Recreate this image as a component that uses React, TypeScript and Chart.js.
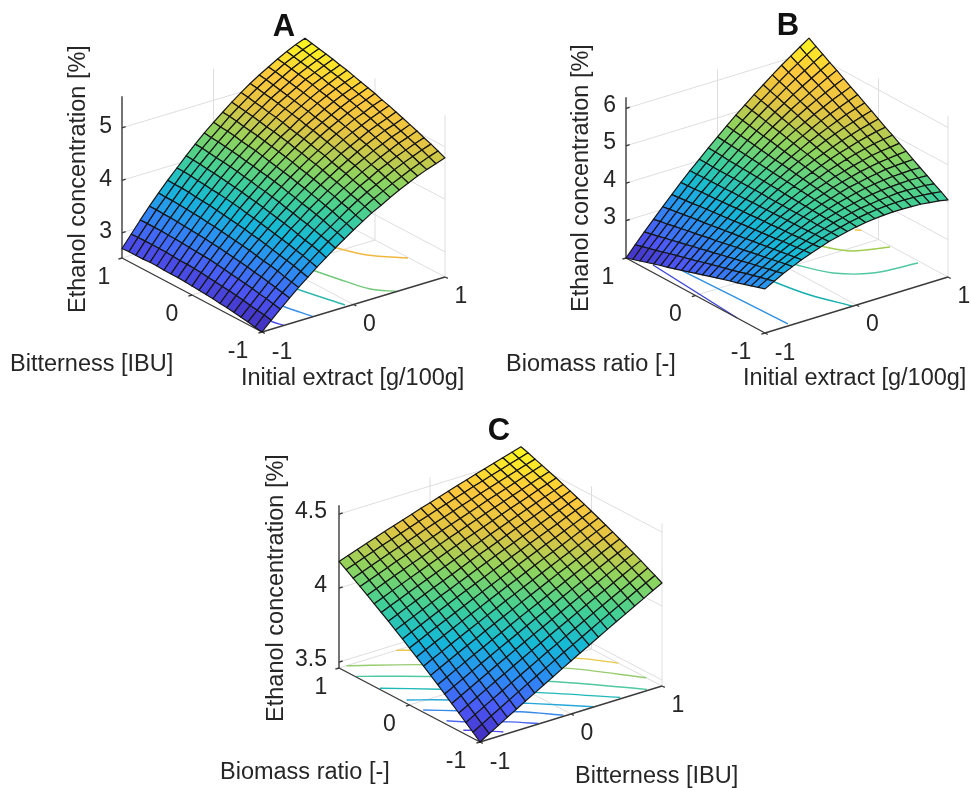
import React, { useEffect, useRef } from "react";
import { Chart, registerables } from "chart.js";

Chart.register(...registerables);

// ---- Surface heights: rows = first axis -1..1, columns = second axis -1..1 ----
const surfaceA = [
[2.52,2.54,2.57,2.59,2.61,2.63,2.64,2.66,2.67,2.68,2.69,2.70,2.71,2.71,2.71,2.72,2.72,2.71,2.71,2.71,2.70],
[2.69,2.72,2.74,2.76,2.79,2.81,2.83,2.84,2.86,2.87,2.89,2.90,2.91,2.91,2.92,2.93,2.93,2.93,2.93,2.93,2.92],
[2.85,2.88,2.91,2.93,2.96,2.98,3.00,3.02,3.04,3.06,3.08,3.09,3.10,3.11,3.12,3.13,3.13,3.14,3.14,3.14,3.14],
[3.01,3.04,3.07,3.10,3.13,3.15,3.18,3.20,3.22,3.24,3.26,3.27,3.29,3.30,3.31,3.32,3.33,3.34,3.34,3.35,3.35],
[3.16,3.19,3.22,3.26,3.29,3.31,3.34,3.37,3.39,3.41,3.43,3.45,3.47,3.48,3.50,3.51,3.52,3.53,3.54,3.54,3.55],
[3.30,3.34,3.38,3.41,3.44,3.47,3.50,3.53,3.55,3.58,3.60,3.62,3.64,3.66,3.68,3.69,3.70,3.72,3.73,3.73,3.74],
[3.44,3.48,3.52,3.55,3.59,3.62,3.65,3.68,3.71,3.74,3.76,3.79,3.81,3.83,3.85,3.86,3.88,3.89,3.91,3.92,3.92],
[3.57,3.62,3.66,3.69,3.73,3.77,3.80,3.83,3.86,3.89,3.92,3.94,3.97,3.99,4.01,4.03,4.05,4.06,4.08,4.09,4.10],
[3.70,3.75,3.79,3.83,3.87,3.90,3.94,3.97,4.01,4.04,4.07,4.09,4.12,4.14,4.17,4.19,4.21,4.22,4.24,4.26,4.27],
[3.82,3.87,3.91,3.96,4.00,4.04,4.07,4.11,4.14,4.18,4.21,4.24,4.26,4.29,4.31,4.34,4.36,4.38,4.40,4.41,4.43],
[3.94,3.99,4.03,4.08,4.12,4.16,4.20,4.24,4.27,4.31,4.34,4.37,4.40,4.43,4.46,4.48,4.50,4.53,4.55,4.56,4.58],
[4.05,4.10,4.15,4.19,4.24,4.28,4.32,4.36,4.40,4.43,4.47,4.50,4.53,4.56,4.59,4.62,4.64,4.66,4.69,4.71,4.72],
[4.16,4.21,4.26,4.30,4.35,4.39,4.43,4.48,4.52,4.55,4.59,4.62,4.66,4.69,4.72,4.74,4.77,4.80,4.82,4.84,4.86],
[4.25,4.31,4.36,4.41,4.45,4.50,4.54,4.58,4.63,4.66,4.70,4.74,4.77,4.80,4.84,4.87,4.89,4.92,4.94,4.97,4.99],
[4.35,4.40,4.45,4.50,4.55,4.60,4.64,4.69,4.73,4.77,4.81,4.85,4.88,4.92,4.95,4.98,5.01,5.04,5.06,5.09,5.11],
[4.44,4.49,4.54,4.60,4.64,4.69,4.74,4.78,4.83,4.87,4.91,4.95,4.98,5.02,5.05,5.08,5.11,5.14,5.17,5.20,5.22],
[4.52,4.57,4.63,4.68,4.73,4.78,4.83,4.87,4.92,4.96,5.00,5.04,5.08,5.12,5.15,5.18,5.21,5.24,5.27,5.30,5.32],
[4.60,4.65,4.71,4.76,4.81,4.86,4.91,4.96,5.00,5.05,5.09,5.13,5.17,5.21,5.24,5.28,5.31,5.34,5.37,5.40,5.42],
[4.67,4.72,4.78,4.83,4.89,4.94,4.99,5.03,5.08,5.12,5.17,5.21,5.25,5.29,5.32,5.36,5.39,5.42,5.45,5.48,5.51],
[4.73,4.79,4.85,4.90,4.95,5.00,5.05,5.10,5.15,5.20,5.24,5.28,5.32,5.36,5.40,5.43,5.47,5.50,5.53,5.56,5.59],
[4.79,4.85,4.91,4.96,5.02,5.07,5.12,5.17,5.22,5.26,5.31,5.35,5.39,5.43,5.47,5.50,5.54,5.57,5.60,5.63,5.66],
];
const surfaceB = [
[3.18,3.12,3.06,3.00,2.94,2.89,2.83,2.77,2.71,2.65,2.59,2.53,2.47,2.41,2.35,2.30,2.24,2.18,2.12,2.06,2.00],
[3.31,3.26,3.21,3.16,3.11,3.05,3.00,2.95,2.90,2.85,2.80,2.74,2.69,2.64,2.59,2.54,2.48,2.43,2.38,2.33,2.28],
[3.44,3.39,3.35,3.30,3.26,3.22,3.17,3.13,3.08,3.04,2.99,2.95,2.90,2.86,2.81,2.77,2.72,2.68,2.63,2.59,2.55],
[3.55,3.52,3.48,3.44,3.40,3.37,3.33,3.29,3.26,3.22,3.18,3.14,3.11,3.07,3.03,3.00,2.96,2.92,2.88,2.85,2.81],
[3.66,3.63,3.60,3.57,3.54,3.51,3.48,3.45,3.42,3.39,3.36,3.33,3.30,3.27,3.24,3.22,3.19,3.16,3.13,3.10,3.07],
[3.75,3.73,3.71,3.69,3.67,3.64,3.62,3.60,3.58,3.56,3.54,3.51,3.49,3.47,3.45,3.43,3.41,3.38,3.36,3.34,3.32],
[3.84,3.82,3.81,3.80,3.78,3.77,3.76,3.74,3.73,3.72,3.70,3.69,3.68,3.66,3.65,3.63,3.62,3.61,3.59,3.58,3.57],
[3.92,3.91,3.91,3.90,3.89,3.89,3.88,3.88,3.87,3.87,3.86,3.86,3.85,3.84,3.84,3.83,3.83,3.82,3.82,3.81,3.81],
[3.98,3.99,3.99,3.99,4.00,4.00,4.00,4.00,4.01,4.01,4.01,4.02,4.02,4.02,4.02,4.03,4.03,4.03,4.03,4.04,4.04],
[4.04,4.05,4.07,4.08,4.09,4.10,4.11,4.12,4.13,4.14,4.16,4.17,4.18,4.19,4.20,4.21,4.22,4.23,4.25,4.26,4.27],
[4.09,4.11,4.13,4.15,4.17,4.19,4.21,4.23,4.25,4.27,4.29,4.31,4.33,4.35,4.37,4.39,4.41,4.43,4.45,4.47,4.49],
[4.13,4.16,4.19,4.22,4.25,4.27,4.30,4.33,4.36,4.39,4.42,4.45,4.48,4.50,4.53,4.56,4.59,4.62,4.65,4.68,4.71],
[4.16,4.20,4.24,4.27,4.31,4.35,4.39,4.42,4.46,4.50,4.54,4.58,4.61,4.65,4.69,4.73,4.76,4.80,4.84,4.88,4.92],
[4.18,4.23,4.27,4.32,4.37,4.42,4.46,4.51,4.56,4.60,4.65,4.70,4.74,4.79,4.84,4.89,4.93,4.98,5.03,5.07,5.12],
[4.19,4.25,4.30,4.36,4.42,4.47,4.53,4.58,4.64,4.70,4.75,4.81,4.87,4.92,4.98,5.04,5.09,5.15,5.21,5.26,5.32],
[4.19,4.26,4.32,4.39,4.46,4.52,4.59,4.65,4.72,4.79,4.85,4.92,4.98,5.05,5.11,5.18,5.25,5.31,5.38,5.44,5.51],
[4.18,4.26,4.34,4.41,4.49,4.56,4.64,4.71,4.79,4.86,4.94,5.02,5.09,5.17,5.24,5.32,5.39,5.47,5.55,5.62,5.70],
[4.17,4.25,4.34,4.42,4.51,4.60,4.68,4.77,4.85,4.94,5.02,5.11,5.19,5.28,5.36,5.45,5.53,5.62,5.71,5.79,5.88],
[4.14,4.24,4.33,4.43,4.52,4.62,4.71,4.81,4.91,5.00,5.10,5.19,5.29,5.38,5.48,5.57,5.67,5.76,5.86,5.95,6.05],
[4.11,4.21,4.32,4.42,4.53,4.63,4.74,4.84,4.95,5.06,5.16,5.27,5.37,5.48,5.58,5.69,5.80,5.90,6.01,6.11,6.22],
[4.06,4.18,4.29,4.41,4.52,4.64,4.76,4.87,4.99,5.10,5.22,5.34,5.45,5.57,5.68,5.80,5.92,6.03,6.15,6.26,6.38],
];
const surfaceC = [
[3.460,3.501,3.541,3.581,3.620,3.659,3.697,3.735,3.772,3.809,3.845,3.881,3.916,3.951,3.985,4.019,4.052,4.085,4.117,4.149,4.180],
[3.497,3.537,3.576,3.615,3.654,3.692,3.729,3.766,3.803,3.839,3.874,3.909,3.944,3.978,4.011,4.044,4.077,4.109,4.140,4.171,4.202],
[3.533,3.573,3.611,3.650,3.687,3.725,3.761,3.798,3.833,3.869,3.903,3.938,3.971,4.005,4.037,4.070,4.101,4.133,4.163,4.194,4.223],
[3.570,3.608,3.646,3.684,3.721,3.757,3.793,3.829,3.864,3.898,3.932,3.966,3.999,4.031,4.063,4.095,4.126,4.156,4.186,4.216,4.245],
[3.606,3.644,3.681,3.718,3.754,3.790,3.825,3.860,3.894,3.928,3.961,3.994,4.026,4.058,4.089,4.120,4.150,4.180,4.209,4.238,4.266],
[3.642,3.679,3.715,3.751,3.787,3.822,3.856,3.890,3.924,3.957,3.989,4.021,4.053,4.084,4.114,4.144,4.174,4.203,4.231,4.259,4.287],
[3.677,3.714,3.749,3.785,3.819,3.854,3.887,3.921,3.953,3.986,4.017,4.049,4.079,4.110,4.139,4.169,4.197,4.226,4.253,4.281,4.307],
[3.713,3.748,3.783,3.818,3.852,3.885,3.918,3.951,3.983,4.014,4.045,4.076,4.106,4.135,4.164,4.193,4.221,4.248,4.275,4.302,4.328],
[3.748,3.783,3.817,3.851,3.884,3.917,3.949,3.981,4.012,4.043,4.073,4.103,4.132,4.161,4.189,4.217,4.244,4.271,4.297,4.323,4.348],
[3.784,3.818,3.851,3.884,3.917,3.949,3.980,4.011,4.042,4.072,4.101,4.130,4.159,4.187,4.214,4.241,4.268,4.294,4.319,4.344,4.369],
[3.818,3.852,3.884,3.917,3.948,3.980,4.010,4.041,4.070,4.100,4.128,4.157,4.184,4.212,4.238,4.265,4.290,4.316,4.340,4.365,4.388],
[3.853,3.885,3.917,3.949,3.980,4.010,4.040,4.070,4.099,4.127,4.155,4.183,4.210,4.236,4.262,4.288,4.313,4.337,4.361,4.385,4.408],
[3.887,3.919,3.950,3.981,4.011,4.041,4.070,4.099,4.127,4.155,4.182,4.209,4.235,4.261,4.286,4.311,4.335,4.359,4.382,4.405,4.427],
[3.922,3.953,3.983,4.013,4.043,4.072,4.100,4.128,4.156,4.183,4.209,4.235,4.261,4.286,4.310,4.334,4.358,4.381,4.403,4.425,4.447],
[3.956,3.987,4.016,4.046,4.074,4.103,4.130,4.158,4.184,4.211,4.236,4.262,4.286,4.311,4.334,4.358,4.380,4.403,4.424,4.446,4.466],
[3.990,4.019,4.048,4.077,4.105,4.132,4.159,4.186,4.212,4.237,4.262,4.287,4.311,4.334,4.357,4.380,4.402,4.423,4.444,4.465,4.485],
[4.023,4.052,4.080,4.108,4.135,4.162,4.188,4.214,4.239,4.264,4.288,4.312,4.335,4.358,4.380,4.402,4.423,4.444,4.464,4.484,4.503],
[4.057,4.085,4.112,4.139,4.166,4.192,4.217,4.242,4.267,4.291,4.314,4.337,4.360,4.382,4.403,4.424,4.445,4.465,4.484,4.503,4.522],
[4.090,4.118,4.144,4.171,4.196,4.222,4.246,4.271,4.294,4.318,4.340,4.363,4.384,4.406,4.426,4.447,4.466,4.486,4.504,4.523,4.540],
[4.124,4.150,4.176,4.202,4.227,4.251,4.275,4.299,4.322,4.344,4.366,4.388,4.409,4.429,4.449,4.469,4.488,4.506,4.524,4.541,4.559],
[4.156,4.182,4.207,4.232,4.256,4.280,4.303,4.326,4.348,4.370,4.391,4.412,4.432,4.452,4.471,4.490,4.508,4.526,4.543,4.561,4.576],
];

// ---- Floor contours, [x, y] in axis units ----
const contoursA: [string, number[][]][] = [
  ["#f0b840", [[0.55,0.3],[0.616,0.096],[0.746,-0.218],[0.992,-0.482]]],
  ["#70c878", [[0.13,0.0],[0.174,-0.224],[0.252,-0.578],[0.32,-0.818],[0.474,-1]]],
  ["#30b8b0", [[-0.22,-0.2],[-0.19,-0.44],[-0.066,-0.964]]],
  ["#3a90e8", [[-0.54,-0.5],[-0.51,-0.688],[-0.44,-1]]],
  ["#4a50e8", [[-0.81,-0.75],[-0.792,-0.884],[-0.76,-1]]],
];
const contoursB: [string, number[][]][] = [
  ["#3a44d8", [[-0.902,0.74],[-1,-0.6]]],
  ["#2f8fe0", [[-0.8,0.8],[-0.77,0.454],[-0.724,-0.966]]],
  ["#18b0b0", [[-0.3,0.1],[-0.27,-0.212],[-0.196,-0.588],[-0.044,-0.994]]],
  ["#50c8a0", [[0.05,0.2],[0.102,-0.01],[0.25,-0.334],[0.528,-0.542],[0.972,-0.606]]],
  ["#a0cc50", [[0.48,0.35],[0.53,0.15],[0.674,-0.062],[0.984,-0.188]]],
  ["#f0c030", [[0.958,0.284],[1,0.248]]],
];
const contoursC: [string, number[][]][] = [
  ["#e8c848", [[-0.372,1],[-0.276,0.932],[0.778,-0.078],[1,-0.382]]],
  ["#98cc70", [[-0.918,1],[-0.374,0.616],[0.564,-0.188],[1,-0.778]]],
  ["#50c8a0", [[-0.99,0.766],[-0.482,0.38],[0.294,-0.346],[0.852,-0.978]]],
  ["#20b8b8", [[-0.984,0.442],[-0.582,0.11],[0.068,-0.474],[0.56,-0.976]]],
  ["#28a8d8", [[-0.954,0.102],[-0.654,-0.126],[-0.144,-0.604],[0.252,-0.996]]],
  ["#3888e8", [[-0.972,-0.158],[-0.738,-0.354],[-0.324,-0.696],[-0.068,-0.98]]],
  ["#4868ee", [[-0.952,-0.464],[-0.814,-0.596],[-0.526,-0.814],[-0.352,-0.992]]],
  ["#5050e8", [[-0.96,-0.712],[-0.88,-0.774],[-0.706,-0.952]]],
];

const zTicksA = [3, 4, 5];
const zTicksB = [3, 4, 5, 6];
const zTicksC = [3.5, 4, 4.5];
const floorTicks = [-1, 0, 1];
const zLabel = "Ethanol concentration [%]";

// Colour ramp of the surfaces
const rampStops = [0, 0.125, 0.25, 0.375, 0.5, 0.625, 0.75, 0.875, 1];
const rampColors = [
  [66,40,180],[76,88,248],[44,140,245],[20,185,215],[65,208,150],[140,212,95],[226,196,66],[255,200,60],[250,250,30],
];
function ramp(t: number) {
  const v = Math.max(0, Math.min(1, t));
  let k = 0;
  while (k < rampStops.length - 2 && v > rampStops[k + 1]) k++;
  const f = (v - rampStops[k]) / (rampStops[k + 1] - rampStops[k]);
  const c = rampColors[k].map((a, n) => Math.round(a + (rampColors[k + 1][n] - a) * f));
  return `rgb(${c[0]},${c[1]},${c[2]})`;
}

type Panel = {
  title: string; titleAt: number[];
  F: number[]; R: number[]; L: number[];
  zMin: number; zTop: number; zPx: number;
  surface: number[][]; contours: [string, number[][]][]; zTicks: number[];
  yLabel: string; yLabelAt: number[]; xLabel: string; xLabelAt: number[]; zLabelAt: number[];
  zTickX: number; zTickDy: number;
};

const panels: Panel[] = [
  { title: "A", titleAt: [284, 27], F: [262, 332], R: [445, 277], L: [122, 258], zMin: 2.52, zTop: 5.6, zPx: 52.5,
    surface: surfaceA, contours: contoursA, zTicks: zTicksA,
    yLabel: "Bitterness [IBU]", yLabelAt: [10, 365], xLabel: "Initial extract [g/100g]", xLabelAt: [241, 379], zLabelAt: [79, 179],
    zTickX: 112, zTickDy: -1 },
  { title: "B", titleAt: [788, 26], F: [765, 333], R: [948, 277], L: [626, 258], zMin: 2, zTop: 6.3, zPx: 37.4,
    surface: surfaceB, contours: contoursB, zTicks: zTicksB,
    yLabel: "Biomass ratio [-]", yLabelAt: [506, 365], xLabel: "Initial extract [g/100g]", xLabelAt: [743, 379], zLabelAt: [582, 178],
    zTickX: 616, zTickDy: -3 },
  { title: "C", titleAt: [499, 431], F: [480, 742], R: [662, 686], L: [339, 668], zMin: 3.46, zTop: 4.56, zPx: 148,
    surface: surfaceC, contours: contoursC, zTicks: zTicksC,
    yLabel: "Biomass ratio [-]", yLabelAt: [220, 773], xLabel: "Bitterness [IBU]", xLabelAt: [575, 777], zLabelAt: [277, 588],
    zTickX: 327, zTickDy: -2 },
];

function project(p: Panel, x: number, y: number, z: number) {
  const u = (x + 1) / 2, v = (y + 1) / 2;
  return {
    x: p.F[0] + u * (p.R[0] - p.F[0]) + v * (p.L[0] - p.F[0]),
    y: p.F[1] + u * (p.R[1] - p.F[1]) + v * (p.L[1] - p.F[1]) - (z - p.zMin) * p.zPx,
  };
}

const gridStyle = { color: "#dedede", width: 1, order: 30 };
const axisStyle = { color: "#3a3a3a", width: 1.4, order: 10 };

function lineDataset(pts: { x: number; y: number }[], color: string, width: number, order: number, tension = 0) {
  return {
    type: "line" as const, data: pts, borderColor: color, borderWidth: width, order, tension,
    pointRadius: 0, fill: false, clip: false,
  };
}

function panelDatasets(p: Panel) {
  const out: any[] = [];
  const gl = (a: number[], b: number[]) =>
    out.push(lineDataset([project(p, a[0], a[1], a[2]), project(p, b[0], b[1], b[2])], gridStyle.color, gridStyle.width, gridStyle.order));
  const al = (a: number[], b: number[]) =>
    out.push(lineDataset([project(p, a[0], a[1], a[2]), project(p, b[0], b[1], b[2])], axisStyle.color, axisStyle.width, axisStyle.order));
  // back walls
  for (const z of p.zTicks) { gl([-1, 1, z], [1, 1, z]); gl([1, 1, z], [1, -1, z]); }
  gl([0, 1, p.zMin], [0, 1, p.zTop]); gl([1, 1, p.zMin], [1, 1, p.zTop]);
  gl([1, 0, p.zMin], [1, 0, p.zTop]); gl([1, -1, p.zMin], [1, -1, p.zTop]);
  // floor
  gl([-1, 1, p.zMin], [1, 1, p.zMin]); gl([1, 1, p.zMin], [1, -1, p.zMin]);
  gl([0, -1, p.zMin], [0, 1, p.zMin]); gl([-1, 0, p.zMin], [1, 0, p.zMin]);
  // contours
  for (const [color, pts] of p.contours) {
    out.push(lineDataset(pts.map((q) => project(p, q[0], q[1], p.zMin)), color, 1.4, 20, 0.3));
  }
  // axes and ticks
  al([-1, 1, p.zMin], [-1, 1, p.zTop]);
  al([-1, 1, p.zMin], [-1, -1, p.zMin]);
  al([-1, -1, p.zMin], [1, -1, p.zMin]);
  for (const z of p.zTicks) al([-1, 1, z], [-0.96, 1, z]);
  for (const t of floorTicks) {
    al([-1, t, p.zMin], [-1.04, t, p.zMin]);
    al([t, -1, p.zMin], [t, -1.04, p.zMin]);
  }
  // surface nodes: cells are filled between them by the plugin below
  const nodes: any[] = [];
  p.surface.forEach((row, i) => row.forEach((z, j) => {
    const q = project(p, -1 + i / 10, -1 + j / 10, z);
    nodes.push({ x: q.x, y: q.y, z });
  }));
  out.push({ type: "scatter" as const, label: p.title, data: nodes, pointRadius: 0, order: 40, showLine: false, isSurface: p });
  return out;
}

const surfacePlugin = {
  id: "surfaceCells",
  afterDatasetsDraw(chart: any) {
    const ctx = chart.ctx;
    ctx.save();
    ctx.lineWidth = 1.2;
    ctx.lineJoin = "round";
    ctx.strokeStyle = "#161616";
    chart.data.datasets.forEach((ds: any, n: number) => {
      if (!ds.isSurface) return;
      const p: Panel = ds.isSurface;
      const els = chart.getDatasetMeta(n).data;
      const rows = p.surface.length, cols = p.surface[0].length;
      const all = p.surface.flat();
      const lo = Math.min(...all), hi = Math.max(...all);
      for (let i = rows - 1; i >= 1; i--) {
        for (let j = cols - 1; j >= 1; j--) {
          const a = els[i * cols + j], b = els[(i - 1) * cols + j], c = els[(i - 1) * cols + j - 1], d = els[i * cols + j - 1];
          const zm = (p.surface[i][j] + p.surface[i - 1][j] + p.surface[i - 1][j - 1] + p.surface[i][j - 1]) / 4;
          ctx.beginPath();
          ctx.moveTo(a.x, a.y); ctx.lineTo(b.x, b.y); ctx.lineTo(c.x, c.y); ctx.lineTo(d.x, d.y);
          ctx.closePath();
          ctx.fillStyle = ramp((zm - lo) / (hi - lo));
          ctx.fill();
          ctx.stroke();
        }
      }
    });
    ctx.restore();
  },
};

const labelPlugin = {
  id: "panelLabels",
  afterDraw(chart: any) {
    const ctx = chart.ctx;
    const xs = chart.scales.x, ys = chart.scales.y;
    ctx.save();
    ctx.fillStyle = "#262626";
    ctx.textBaseline = "middle";
    for (const p of panels) {
      const at = (x: number, y: number) => [xs.getPixelForValue(x), ys.getPixelForValue(y)];
      ctx.font = "bold 31px 'Liberation Sans'";
      ctx.fillStyle = "#111";
      ctx.textAlign = "center";
      ctx.fillText(p.title, ...at(p.titleAt[0], p.titleAt[1]));
      ctx.fillStyle = "#262626";
      ctx.font = "23px 'Liberation Sans'";
      ctx.textAlign = "right";
      for (const z of p.zTicks) {
        const q = project(p, -1, 1, z);
        ctx.fillText(String(z), ...at(p.zTickX, q.y + p.zTickDy));
      }
      ctx.textAlign = "center";
      for (const t of floorTicks) {
        const a = project(p, -1, t, p.zMin);
        ctx.fillText(String(t), ...at(a.x - (t === -1 ? 24 : t === 0 ? 20 : 18), a.y + 19.5));
        const b = project(p, t, -1, p.zMin);
        ctx.fillText(String(t), ...at(b.x + (t === -1 ? 20 : 16), b.y + (t === -1 ? 21 : 20)));
      }
      ctx.font = "23.5px 'Liberation Sans'";
      ctx.textAlign = "left";
      ctx.fillText(p.yLabel, ...at(p.yLabelAt[0], p.yLabelAt[1]));
      ctx.fillText(p.xLabel, ...at(p.xLabelAt[0], p.xLabelAt[1]));
      const [zx, zy] = at(p.zLabelAt[0], p.zLabelAt[1]);
      ctx.save();
      ctx.translate(zx, zy);
      ctx.rotate(-Math.PI / 2);
      ctx.textAlign = "center";
      ctx.fillText(zLabel, 0, 0);
      ctx.restore();
    }
    ctx.restore();
  },
};

export default function App() {
  const ref = useRef<HTMLCanvasElement>(null);
  useEffect(() => {
    const chart = new Chart(ref.current as HTMLCanvasElement, {
      type: "scatter",
      data: { datasets: panels.flatMap(panelDatasets) as any },
      options: {
        animation: false,
        responsive: false,
        events: [],
        layout: { padding: 0 },
        plugins: { legend: { display: false }, tooltip: { enabled: false }, title: { display: false } },
        scales: {
          x: { type: "linear", min: 0, max: 971, display: false },
          y: { type: "linear", min: 0, max: 788, reverse: true, display: false },
        },
      },
      plugins: [surfacePlugin, labelPlugin],
    } as any);
    return () => chart.destroy();
  }, []);
  return (
    <div style={{ position: "absolute", left: 0, top: 0, width: 971, height: 788, background: "#fff", overflow: "hidden" }}>
      <canvas ref={ref} width={971} height={788} style={{ display: "block", filter: "blur(0.3px)" }} />
    </div>
  );
}
